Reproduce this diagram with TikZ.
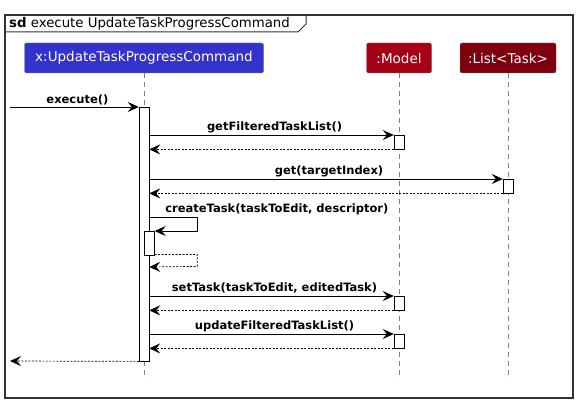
\documentclass[tikz,border=0pt]{standalone}
\usepackage{fontspec}
\setmainfont{DejaVu Sans}
\usetikzlibrary{arrows.meta}

\definecolor{cmdblue}{RGB}{51,51,204}
\definecolor{modelred}{RGB}{166,0,22}
\definecolor{listred}{RGB}{126,0,14}
\definecolor{frameline}{RGB}{50,50,50}

\begin{document}
\begin{tikzpicture}[
    x=1pt, y=-1pt,
    >={Stealth[length=11pt,width=10pt,inset=4pt]},
    participant/.style={draw=black!55, rounded corners=2pt, text=white,
        minimum height=30pt, inner sep=0pt,
        font=\fontsize{13.5}{16}\selectfont},
    act/.style={draw, fill=white, minimum width=10pt, inner sep=0pt,
        anchor=north},
    lifeline/.style={draw=gray, dash pattern=on 5pt off 4pt},
    msg/.style={->, line width=0.9pt},
    ret/.style={->, line width=0.7pt, dash pattern=on 2pt off 1.5pt},
    lbl/.style={above, xshift=3pt, inner sep=2pt,
        font=\fontsize{11.5}{13}\selectfont\bfseries}
]
\useasboundingbox (0,0) rectangle (577,403);

% frame and title
\draw[frameline, line width=1.5pt] (5,15) rectangle (573,398);
\draw[frameline, line width=1pt] (5,32) -- (298,32) -- (306,24) -- (306,15);
\node[anchor=base west, inner sep=0pt, font=\fontsize{13.3}{16}\selectfont]
    (title) at (9,28) {\textbf{sd} execute UpdateTaskProgressCommand};

% participants
\node[participant, fill=cmdblue, minimum width=239pt] (cmd) at (144,58)
    {x:UpdateTaskProgressCommand};
\node[participant, fill=modelred, minimum width=65pt] (model) at (399,58)
    {:Model};
\node[participant, fill=listred, minimum width=96pt] (list) at (508,58)
    {:List<Task>};

% lifelines
\draw[lifeline] (cmd.south) -- ++(0,306);
\draw[lifeline] (model.south) -- ++(0,306);
\draw[lifeline] (list.south) -- ++(0,306);

% activations
\node[act, minimum height=254pt] (actcmd) at (144,107) {};
\node[act, minimum height=14pt] (actget) at (399,135) {};
\node[act, minimum height=14pt] (actidx) at (508,179) {};
\node[act, minimum height=24pt] (actnew) at (149.5,231) {};
\node[act, minimum height=14pt] (actset) at (399,296) {};
\node[act, minimum height=14pt] (actupd) at (399,334) {};

\coordinate (caller) at (10,107);
\coordinate (back) at (10,361);

% messages
\draw[msg] (caller) -- (actcmd.north west)
    node[lbl, midway] {execute()};

\draw[msg] (actcmd.east |- actget.north) -- (actget.north west)
    node[lbl, midway] {getFilteredTaskList()};
\draw[ret] (actget.south west) -- (actcmd.east |- actget.south);

\draw[msg] (actcmd.east |- actidx.north) -- (actidx.north west)
    node[lbl, midway] {get(targetIndex)};
\draw[ret] (actidx.south west) -- (actcmd.east |- actidx.south);

\coordinate (selfout) at (actcmd.east |- 0,217);
\draw[msg] (selfout) -- ++(48,0) |- (actnew.north east);
\node[lbl, anchor=south west, xshift=0pt] (lblnew) at ([xshift=11pt]selfout)
    {createTask(taskToEdit, descriptor)};
\draw[ret] ([yshift=1pt]actnew.south east) -- ++(42.5,0) -- ++(0,12)
    -- (actcmd.east |- 0,267);

\draw[msg] (actcmd.east |- actset.north) -- (actset.north west)
    node[lbl, midway] {setTask(taskToEdit, editedTask)};
\draw[ret] (actset.south west) -- (actcmd.east |- actset.south);

\draw[msg] (actcmd.east |- actupd.north) -- (actupd.north west)
    node[lbl, midway] {updateFilteredTaskList()};
\draw[ret] (actupd.south west) -- (actcmd.east |- actupd.south);

\draw[ret] (actcmd.south west) -- (back);

\end{tikzpicture}
\end{document}
